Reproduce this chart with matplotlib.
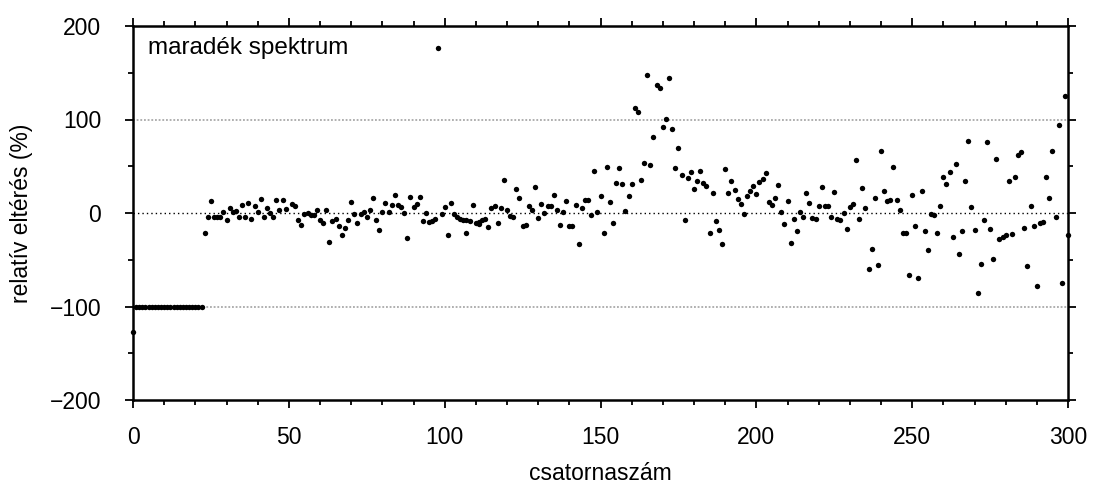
import matplotlib
matplotlib.use("Agg")
import matplotlib.pyplot as plt
from matplotlib.ticker import MultipleLocator

plt.rcParams['font.family'] = ['Liberation Sans', 'DejaVu Sans']

# ---- data ----
flat_channels = list(range(1, 23))
flat_values = [-100] * len(flat_channels)

channels = [0] + flat_channels + [
    23, 24, 25, 26, 27, 28, 29, 30, 31, 32, 33, 34, 35, 36, 37, 38, 39, 40, 41, 42,
    43, 44, 45, 46, 47, 48, 49, 51, 52, 53, 54, 55, 56, 57, 58, 59, 60, 61, 62, 63,
    64, 65, 66, 67, 68, 69, 70, 71, 72, 73, 74, 75, 76, 77, 78, 79, 80, 81, 82, 83,
    84, 85, 86, 87, 88, 89, 90, 91, 92, 93, 94, 95, 96, 97, 98, 99, 100, 101, 102, 103,
    104, 105, 106, 107, 107, 108, 109, 110, 111, 111, 112, 113, 114, 115, 116, 117, 118, 119, 120, 121,
    122, 123, 124, 125, 126, 127, 128, 129, 130, 131, 132, 133, 134, 135, 136, 137, 138, 139, 140, 141,
    142, 143, 144, 145, 146, 147, 148, 149, 150, 151, 152, 153, 154, 155, 156, 157, 158, 159, 160, 161,
    162, 163, 164, 165, 166, 167, 168, 169, 170, 171, 172, 173, 174, 175, 176, 177, 178, 179, 180, 181,
    182, 183, 184, 185, 186, 187, 188, 189, 190, 191, 192, 193, 194, 195, 196, 197, 198, 199, 200, 201,
    202, 203, 204, 205, 206, 207, 208, 209, 210, 211, 212, 213, 214, 215, 216, 217, 218, 219, 220, 221,
    222, 223, 224, 225, 226, 227, 228, 229, 230, 231, 232, 233, 234, 235, 236, 237, 238, 239, 240, 241,
    242, 243, 244, 245, 246, 247, 248, 249, 250, 251, 252, 253, 254, 255, 256, 257, 258, 259, 260, 261,
    262, 263, 264, 265, 266, 267, 268, 269, 270, 271, 272, 273, 274, 275, 276, 277, 278, 279, 280, 281,
    282, 283, 284, 285, 286, 287, 288, 289, 290, 291, 292, 293, 294, 295, 296, 297, 298, 299, 300,
]
values = [-127] + flat_values + [
    -21, -4, 13, -4, -4, -4, 1, -8, 5, 1, 2, -4, 9, -4, 11, -6, 8, 1, 15, -4,
    5, 0, -4, 14, 3, 14, 4, 10, 7, -7, -13, -1, 0, -2, -2, 3, -7, -11, 3, -31,
    -9, -6, -14, -24, -16, -7, 12, -1, -11, -1, 1, -4, 3, 16, -7, -18, 1, 11, 1, 9,
    19, 9, 6, 0, -27, 17, 6, 10, 17, -9, 0, -10, -9, -6, 176, -1, 6, -23, 11, -1,
    -4, -6, -7, -21, -8, -9, 9, -11, -12, -10, -7, -6, -15, 5, 7, -11, 5, 35, 3, -3,
    -4, 26, 16, -14, -13, 8, 3, 28, -5, 10, 0, 7, 8, 19, 3, -13, 1, 13, -14, -14,
    9, -33, 5, 14, 14, -2, 45, 1, 18, -21, 49, 12, -11, 32, 48, 31, 2, 18, 31, 112,
    108, 35, 53, 148, 51, 81, 137, 134, 92, 101, 144, 90, 48, 69, 41, -7, 37, 44, 26, 34,
    45, 32, 29, -21, 21, -9, -18, -33, 47, 21, 34, 25, 15, 10, -1, 18, 24, 29, 20, 33,
    36, 43, 12, 9, 16, 30, 1, -12, 13, -32, -6, -19, 1, -4, 21, 11, -5, -6, 7, 28,
    8, 8, -4, 22, -6, -7, 0, -17, 6, 10, 57, -6, 27, 5, -60, -38, 16, -56, 66, 23,
    13, 14, 49, 14, 3, -21, -21, -66, 19, -14, -69, 24, -19, -40, -1, -2, -21, 8, 39, 31,
    44, -26, 52, -44, -19, 34, 77, 6, -18, -86, -55, -7, 76, -17, -49, 58, -28, -26, -24, 34,
    -22, 39, 62, 65, -16, -57, 7, -14, -78, -11, -10, 38, 16, 66, -4, 94, -75, 125, -24,
]

ref_lines = [100, -100]
x_ticks = [0, 50, 100, 150, 200, 250, 300]
y_ticks = [-200, -100, 0, 100, 200]
label_text = "maradék spektrum"
x_label = "csatornaszám"
y_label = "relatív eltérés (%)"

# ---- figure ----
fig = plt.figure(figsize=(10.93, 4.83), dpi=100)
ax = fig.add_axes([133 / 1093, 1 - 400 / 483, (1068 - 133) / 1093, (400 - 26) / 483])

for v in ref_lines:
    ax.axhline(v, color='#9a9a9a', lw=1.1, linestyle=(0, (1.2, 1.2)), zorder=1)
ax.axhline(0, color='black', lw=1.0, linestyle=(0, (1, 2.2)), zorder=1)

ax.scatter(channels, values, s=15, c='black', marker='o', linewidths=0, zorder=3, clip_on=False)

ax.set_xlim(0, 300)
ax.set_ylim(-200, 200)
ax.set_xticks(x_ticks)
ax.set_yticks(y_ticks)
ax.set_yticklabels([str(t).replace('-', '\u2212') for t in y_ticks])
ax.xaxis.set_minor_locator(MultipleLocator(10))
ax.yaxis.set_minor_locator(MultipleLocator(50))

ax.tick_params(which='both', direction='out', top=True, right=True, labelsize=16.5,
               width=1.3, color='black')
ax.tick_params(which='major', length=6)
ax.tick_params(which='minor', length=3.5)
ax.tick_params(axis='x', pad=13)
ax.tick_params(axis='y', pad=17)

for s in ax.spines.values():
    s.set_linewidth(1.8)

ax.set_xlabel(x_label, fontsize=16.5, labelpad=9)
ax.set_ylabel(y_label, fontsize=16.5, labelpad=12)

ax.text(4.8, 176, label_text, fontsize=17.5, ha='left', va='center')

fig.savefig("out.png", dpi=100)
